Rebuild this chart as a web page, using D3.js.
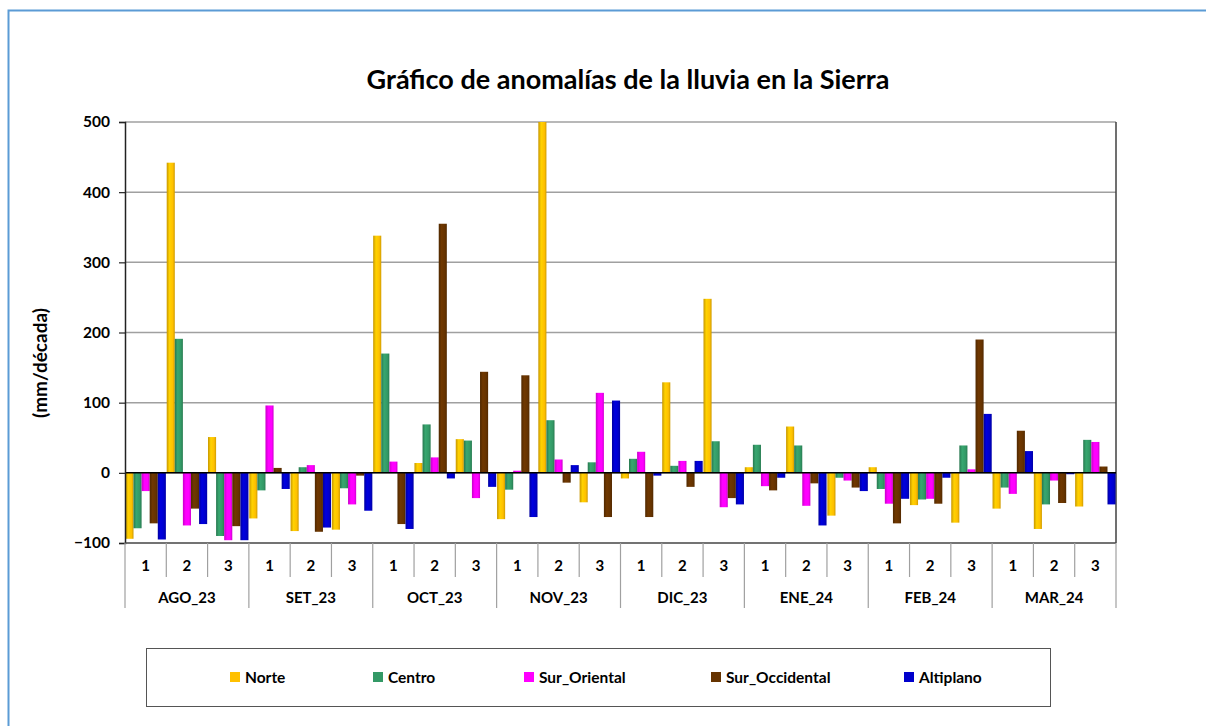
<!DOCTYPE html>
<html>
<head>
<meta charset="utf-8">
<title>Gráfico de anomalías de la lluvia en la Sierra</title>
<script src="https://cdn.jsdelivr.net/npm/d3@7"></script>
<style>
  body { margin: 0; background: #fff; }
  svg text { font-family: Lato, "Open Sans", sans-serif; font-weight: bold; fill: #000; }
</style>
</head>
<body>
<script>
// months and dekads of the category axis
var months = ["AGO_23", "SET_23", "OCT_23", "NOV_23", "DIC_23", "ENE_24", "FEB_24", "MAR_24"];
var dekads = ["1", "2", "3"];
var seriesNames = ["Norte", "Centro", "Sur_Oriental", "Sur_Occidental", "Altiplano"];
var seriesColors = ["#FFC000", "#339966", "#FF00FF", "#663300", "#0000CC"];
var yTicks = [-100, 0, 100, 200, 300, 400, 500];

// anomalies (mm/decada), one value per dekad, AGO_23 1 .. MAR_24 3
var norte         = [-94, 442, 51, -65, -83, -81, 338, 14, 48, -66, 500, -42, -8, 129, 248, 8, 66, -61, 8, -46, -71, -51, -80, -48];
var centro        = [-79, 191, -90, -25, 8, -22, 170, 69, 46, -24, 75, 15, 20, 10, 45, 40, 39, -7, -23, -38, 39, -21, -45, 47];
var surOriental   = [-26, -75, -96, 96, 11, -45, 16, 22, -36, 3, 19, 114, 30, 17, -49, -19, -47, -11, -44, -37, 5, -30, -11, 44];
var surOccidental = [-72, -51, -76, 7, -84, -4, -73, 355, 144, 139, -14, -63, -63, -20, -36, -25, -15, -21, -72, -44, 190, 60, -43, 9];
var altiplano     = [-95, -73, -96, -23, -78, -54, -80, -8, -20, -63, 11, 103, -4, 17, -45, -7, -75, -26, -37, -7, 84, 31, -2, -45];

var seriesValues = [norte, centro, surOriental, surOccidental, altiplano];

var W = 1206, H = 726;
var margin = {top: 122, right: 90, bottom: 183, left: 125};
var width = W - margin.left - margin.right,
    height = H - margin.top - margin.bottom;

// one band per dekad
var cats = [];
months.forEach(function(m) { dekads.forEach(function(d) { cats.push(m + "|" + d); }); });

var rows = cats.map(function(c, i) {
  return {cat: c, vals: seriesValues.map(function(s) { return s[i]; })};
});

var x0 = d3.scaleBand().domain(cats).range([0, width]).paddingInner(0.02).paddingOuter(0.01);
var x1 = d3.scaleBand().domain(d3.range(seriesNames.length)).range([0, x0.bandwidth()]);
var y = d3.scaleLinear().domain([-100, 500]).range([height, 0]);

var svg = d3.select("body").append("svg")
  .attr("width", W)
  .attr("height", H);

// outer frame
svg.append("rect")
  .attr("x", 8.5).attr("y", 10.5)
  .attr("width", W + 20).attr("height", H + 20)
  .attr("fill", "none")
  .attr("stroke", "#5B9BD5")
  .attr("stroke-width", 2);

// gradients for the bars
var defs = svg.append("defs");
seriesColors.forEach(function(c, i) {
  var g = defs.append("linearGradient").attr("id", "grad" + i)
    .attr("x1", "0").attr("x2", "1").attr("y1", "0").attr("y2", "0");
  g.append("stop").attr("offset", "0").attr("stop-color", d3.color(c).darker(0.7));
  g.append("stop").attr("offset", "0.35").attr("stop-color", d3.color(c).brighter(0.25));
  g.append("stop").attr("offset", "0.75").attr("stop-color", c);
  g.append("stop").attr("offset", "1").attr("stop-color", d3.color(c).darker(0.6));
});

// title
svg.append("text")
  .attr("x", 628).attr("y", 89)
  .attr("text-anchor", "middle")
  .style("font-size", "27px")
  .text("Gráfico de anomalías de la lluvia en la Sierra");

var g = svg.append("g").attr("transform", "translate(" + margin.left + "," + margin.top + ")");

// gridlines
g.selectAll(".grid").data(yTicks.filter(function(t) { return t > -100; }))
  .enter().append("line")
  .attr("x1", 0).attr("x2", width)
  .attr("y1", function(d) { return y(d); }).attr("y2", function(d) { return y(d); })
  .attr("stroke", "#A0A0A0").attr("stroke-width", 1.5);

// right border of plot area
g.append("line")
  .attr("x1", width).attr("x2", width)
  .attr("y1", 0).attr("y2", height)
  .attr("stroke", "#404040").attr("stroke-width", 1.5);

// bars
var groups = g.selectAll(".grp").data(rows).enter().append("g")
  .attr("transform", function(d) { return "translate(" + x0(d.cat) + ",0)"; });

groups.selectAll("rect").data(function(d) { return d.vals; })
  .enter().append("rect")
  .attr("x", function(d, i) { return x1(i); })
  .attr("width", x1.bandwidth())
  .attr("y", function(d) { return y(Math.max(0, d)); })
  .attr("height", function(d) { return Math.abs(y(d) - y(0)); })
  .attr("fill", function(d, i) { return "url(#grad" + i + ")"; });

// zero line
g.append("line")
  .attr("x1", 0).attr("x2", width)
  .attr("y1", y(0)).attr("y2", y(0))
  .attr("stroke", "#000").attr("stroke-width", 1.5);

// y axis
var yAxis = d3.axisLeft(y).tickValues(yTicks).tickSize(6).tickPadding(9);
var ya = g.append("g").call(yAxis);
ya.select(".domain").attr("stroke", "#222").attr("stroke-width", 1.5);
ya.selectAll(".tick line").attr("stroke", "#222").attr("stroke-width", 1.2);
ya.selectAll(".tick text").style("font-size", "15.5px").style("font-family", "Lato, sans-serif").attr("fill", "#000");

// bottom line of the plot (-100)
g.append("line")
  .attr("x1", 0).attr("x2", width)
  .attr("y1", height).attr("y2", height)
  .attr("stroke", "#444").attr("stroke-width", 1.5);

// category axis: dekad dividers and labels
var catBounds = d3.range(cats.length + 1).map(function(i) { return i * (width / cats.length); });
g.selectAll(".dek").data(catBounds).enter().append("line")
  .attr("x1", function(d) { return d; }).attr("x2", function(d) { return d; })
  .attr("y1", height)
  .attr("y2", function(d, i) { return (i % 3 === 0) ? height + 65 : height + 34; })
  .attr("stroke", "#A0A0A0").attr("stroke-width", 1.2);

g.selectAll(".dekl").data(cats).enter().append("text")
  .attr("x", function(d) { return x0(d) + x0.bandwidth() / 2; })
  .attr("y", height + 28)
  .attr("text-anchor", "middle")
  .style("font-size", "15px")
  .text(function(d) { return d.split("|")[1]; });

g.selectAll(".monl").data(months).enter().append("text")
  .attr("x", function(d, i) { return (i * 3 + 1.5) * (width / cats.length); })
  .attr("y", height + 60)
  .attr("text-anchor", "middle")
  .style("font-size", "15px")
  .text(function(d) { return d; });

// y label
svg.append("text")
  .attr("transform", "translate(47,363) rotate(-90)")
  .attr("text-anchor", "middle")
  .style("font-size", "19px")
  .text("(mm/década)");

// legend
svg.append("rect")
  .attr("x", 146.5).attr("y", 648.5)
  .attr("width", 904).attr("height", 58)
  .attr("fill", "#fff")
  .attr("stroke", "#555").attr("stroke-width", 1);

var legendX = [230, 373, 524, 711, 904];
var leg = svg.selectAll(".legend").data(seriesNames).enter().append("g")
  .attr("transform", function(d, i) { return "translate(" + legendX[i] + ",672)"; });
leg.append("rect").attr("width", 10).attr("height", 10)
  .attr("fill", function(d, i) { return seriesColors[i]; });
leg.append("text").attr("x", 15).attr("y", 10.5)
  .style("font-size", "15.5px")
  .text(function(d) { return d; });
</script>
</body>
</html>
